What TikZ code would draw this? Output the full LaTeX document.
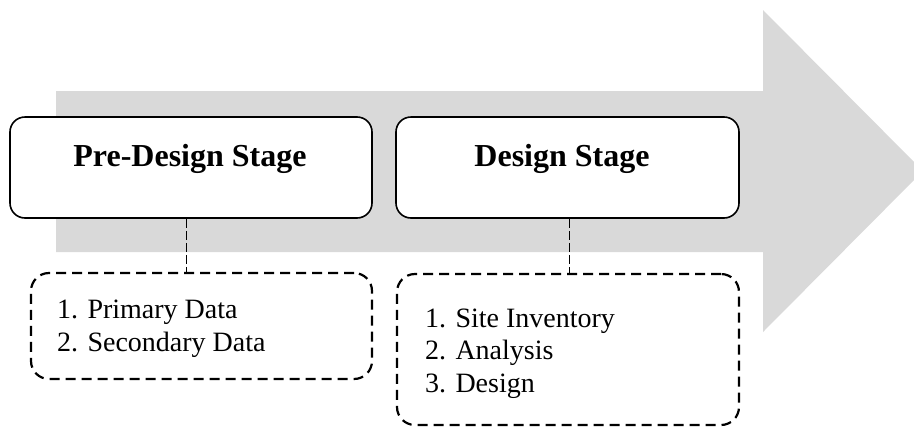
\documentclass[tikz,border=0pt]{standalone}
\usepackage{fontspec}
\setmainfont{Liberation Serif}
\definecolor{arrowgray}{RGB}{217,217,217}
\begin{document}
\begin{tikzpicture}[x=1pt,y=-1pt,
  stagebox/.style={draw=black, line width=1.6pt, rounded corners=15pt, fill=white, inner sep=0pt},
  listbox/.style={draw=black, line width=2.2pt, dash pattern=on 10pt off 6pt, rounded corners=18pt, inner sep=0pt},
  headtext/.style={font=\fontsize{32}{37}\selectfont\bfseries, inner sep=0pt, anchor=base},
  itemtext/.style={font=\fontsize{28}{34}\selectfont, inner sep=0pt, anchor=base west},
  conn/.style={draw=black, line width=1pt, dash pattern=on 9pt off 3pt}]
\useasboundingbox (0,0) rectangle (914,429);
\clip (0,0) rectangle (914,429);
% big gray arrow
\fill[arrowgray] (56,91) -- (763,91) -- (763,10) -- (923,171) -- (763,332) -- (763,252) -- (56,252) -- cycle;
% stage boxes
\node[stagebox, minimum width=362pt, minimum height=101pt] (pre) at (191,167.5) {};
\node[stagebox, minimum width=343pt, minimum height=101pt] (des) at (567.5,167.5) {};
\node[headtext] (pret) at (190,166) {Pre-Design Stage};
\node[headtext] (dest) at (562,166) {Design Stage};
% list boxes
\node[listbox, minimum width=341pt, minimum height=106pt] (l1) at (201.5,326) {};
\node[listbox, minimum width=342pt, minimum height=151pt] (l2) at (568,349.5) {};
\node[itemtext] (a1) at (57,318) {1. Primary Data};
\node[itemtext] (a2) at (57,351.5) {2. Secondary Data};
\node[itemtext] (b1) at (425,327) {1. Site Inventory};
\node[itemtext] (b2) at (425,359.5) {2. Analysis};
\node[itemtext] (b3) at (425,392) {3. Design};
% connectors
\draw[conn] ([xshift=-5pt]pre.south) -- ([xshift=-5pt]pre.south |- l1.north);
\draw[conn] ([xshift=1.5pt]des.south) -- ([xshift=1.5pt]des.south |- l2.north);
\end{tikzpicture}
\end{document}
